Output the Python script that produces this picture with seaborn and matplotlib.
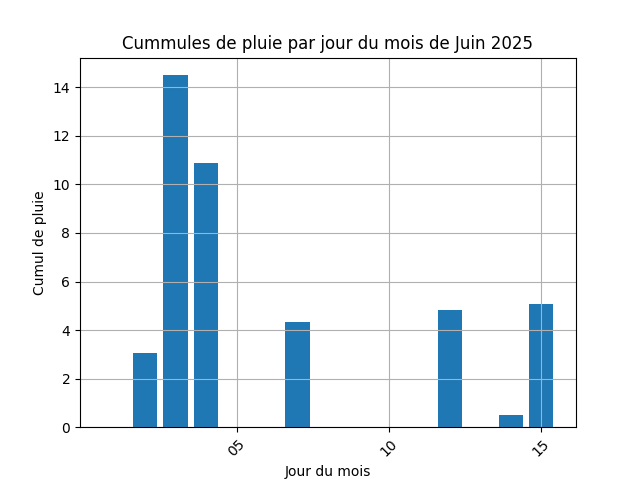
import matplotlib
matplotlib.use("Agg")
import matplotlib.pyplot as plt
import seaborn as sns
import pandas as pd

days = list(range(1, 16))
rain = [0, 3.05, 14.5, 10.9, 0, 0, 4.32, 0, 0, 0, 0, 4.82, 0, 0.49, 5.06]
tick_pos = [5, 10, 15]
tick_labels = ["05", "10", "15"]

df = pd.DataFrame({"jour": days, "pluie": rain})

fig, ax = plt.subplots(figsize=(6.4, 4.8), dpi=100)
sns.barplot(data=df, x="jour", y="pluie", native_scale=True, color="#1f77b4",
            saturation=1, linewidth=0, ax=ax, errorbar=None)
ax.set_xticks(tick_pos)
ax.set_xticklabels(tick_labels, rotation=45)
ax.grid(True)
ax.set_title("Cummules de pluie par jour du mois de Juin 2025")
ax.set_xlabel("Jour du mois")
ax.set_ylabel("Cumul de pluie")
fig.savefig("out.png", dpi=100)
